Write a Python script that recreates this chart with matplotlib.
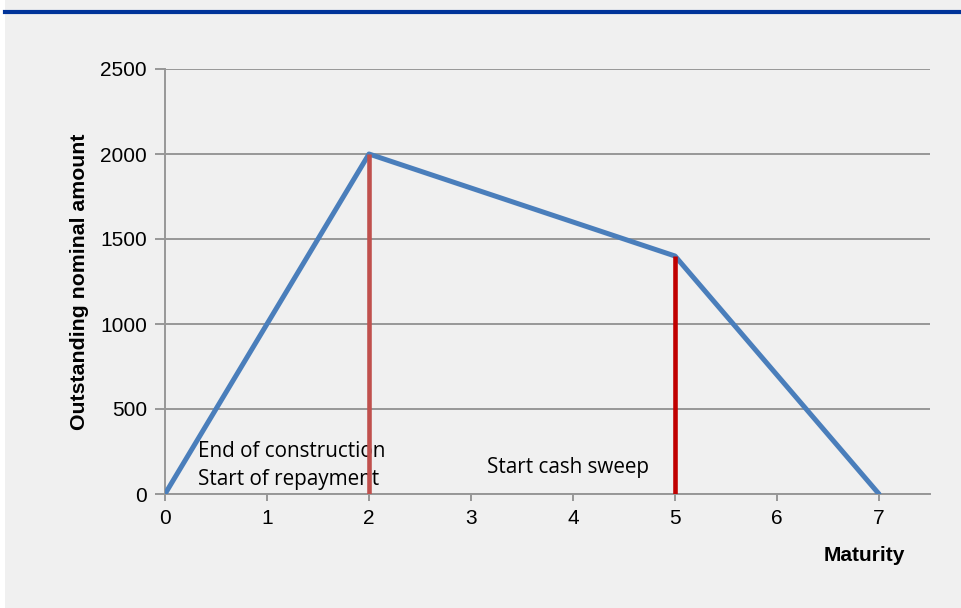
import matplotlib.pyplot as plt
from matplotlib.patches import Rectangle
from matplotlib.lines import Line2D

maturity = [0, 2, 5, 7]
nominal = [0, 2000, 1400, 0]
x_ticks = [0, 1, 2, 3, 4, 5, 6, 7]
y_ticks = [0, 500, 1000, 1500, 2000, 2500]
construction_end = 2
sweep_start = 5

bg = '#f0f0f0'
grid = '#979797'

fig = plt.figure(figsize=(9.62, 6.08), dpi=100, facecolor=bg)
fig.patches.append(Rectangle((0, 0), 5 / 962, 1, transform=fig.transFigure,
                             facecolor='white', edgecolor='none'))
fig.lines.append(Line2D([5 / 962, 1], [1 - 11.5 / 608] * 2, transform=fig.transFigure,
                        color='#003399', lw=3))

ax = fig.add_axes([165 / 962, 1 - 494 / 608, 765 / 962, 425 / 608])
ax.set_facecolor(bg)

ax.plot(maturity, nominal, color='#4a7ebb', lw=3.6, solid_capstyle='round', zorder=3)
ax.vlines(construction_end, 0, nominal[1], color='#c0504d', lw=3.3, zorder=4)
ax.vlines(sweep_start, 0, nominal[2], color='#c00000', lw=3.3, zorder=4)

ax.set_xlim(0, 7.5)
ax.set_ylim(0, 2500)
ax.set_xticks(x_ticks)
ax.set_yticks(y_ticks)
ax.grid(axis='y', color=grid, lw=1.4)
ax.set_axisbelow(True)
for s in ['top', 'right']:
    ax.spines[s].set_visible(False)
for s in ['left', 'bottom']:
    ax.spines[s].set_color(grid)
    ax.spines[s].set_linewidth(1.4)
ax.tick_params(axis='y', length=7, color=grid, width=1.4, labelsize=15, pad=6)
ax.tick_params(axis='x', length=5, color=grid, width=1.4, labelsize=15, pad=6)
for lab in ax.get_xticklabels() + ax.get_yticklabels():
    lab.set_fontfamily('Liberation Sans')

ax.set_ylabel('Outstanding nominal amount', fontsize=15.3, fontweight='bold',
              family='Liberation Sans')
ax.yaxis.set_label_coords(-76 / 765, 0.5)
fig.text(905 / 962, 1 - 561 / 608, 'Maturity', fontsize=15, fontweight='bold',
         family='Liberation Sans', ha='right', va='baseline')

ax.text(0.32, 218, 'End of construction', fontsize=14.9, family='Open Sans',
        va='baseline', zorder=2)
ax.text(0.32, 53, 'Start of repayment', fontsize=14.9, family='Open Sans',
        va='baseline', zorder=2)
ax.text(3.16, 124, 'Start cash sweep', fontsize=14.9, family='Open Sans',
        va='baseline', zorder=2)

fig.savefig('out.png', dpi=100, facecolor=bg)
